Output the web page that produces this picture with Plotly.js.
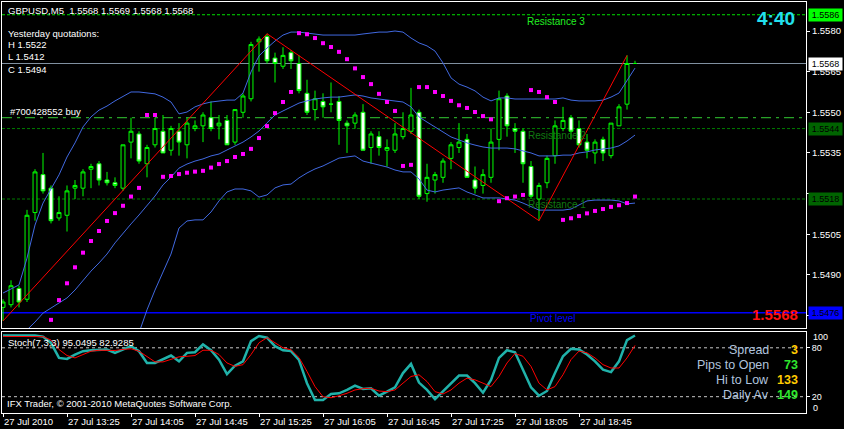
<!DOCTYPE html>
<html><head><meta charset="utf-8">
<script src="https://cdn.plot.ly/plotly-3.0.1.min.js"></script>
<style>html,body{margin:0;padding:0;background:#000;}#chart{width:844px;height:429px;}</style>
</head><body><div id="chart"></div>
<script>
// ---- data ----
const times = ["12:45","12:50","12:55","13:00","13:05","13:10","13:15","13:20",
"13:25","13:30","13:35","13:40","13:45","13:50","13:55","14:00",
"14:05","14:10","14:15","14:20","14:25","14:30","14:35","14:40",
"14:45","14:50","14:55","15:00","15:05","15:10","15:15","15:20",
"15:25","15:30","15:35","15:40","15:45","15:50","15:55","16:00",
"16:05","16:10","16:15","16:20","16:25","16:30","16:35","16:40",
"16:45","16:50","16:55","17:00","17:05","17:10","17:15","17:20",
"17:25","17:30","17:35","17:40","17:45","17:50","17:55","18:00",
"18:05","18:10","18:15","18:20","18:25","18:30","18:35","18:40",
"18:45","18:50","18:55","19:00","19:05","19:10","19:15","19:20"];

const openP = [1.5478,1.5479,1.5485,1.5481,1.5513,1.5527,1.5522,1.5511,1.5512,1.5522,
1.5522,1.5529,1.5531,1.5525,1.5524,1.5522,1.5539,1.5542,1.5531,1.5538,
1.5543,1.5536,1.5543,1.5538,1.5544,1.5545,1.5548,1.5545,1.5547,1.5539,
1.5550,1.5555,1.5576,1.5578,1.5570,1.5567,1.5572,1.5568,1.5557,1.5551,
1.5554,1.5553,1.5554,1.5546,1.5546,1.5550,1.5537,1.5541,1.5536,1.5536,
1.5541,1.5543,1.5550,1.5520,1.5525,1.5526,1.5533,1.5537,1.5540,1.5525,
1.5523,1.5526,1.5540,1.5556,1.5544,1.5543,1.5530,1.5518,1.5524,1.5534,
1.5544,1.5548,1.5544,1.5539,1.5535,1.5540,1.5534,1.5545,1.5553,1.5568];
const highP = [1.5481,1.5488,1.5486,1.5514,1.5529,1.5535,1.5523,1.5519,1.5523,1.5525,
1.5529,1.5531,1.5532,1.5528,1.5526,1.5538,1.5548,1.5543,1.5538,1.5548,
1.5549,1.5545,1.5546,1.5548,1.5547,1.5550,1.5554,1.5549,1.5549,1.5551,
1.5557,1.5576,1.5578,1.5579,1.5572,1.5574,1.5573,1.5571,1.5562,1.5558,
1.5557,1.5561,1.5556,1.5547,1.5550,1.5553,1.5543,1.5543,1.5540,1.5546,
1.5550,1.5559,1.5551,1.5531,1.5528,1.5533,1.5539,1.5546,1.5542,1.5530,
1.5529,1.5544,1.5558,1.5557,1.5546,1.5544,1.5532,1.5524,1.5534,1.5547,
1.5552,1.5549,1.5547,1.5542,1.5540,1.5541,1.5546,1.5553,1.5571,1.5569];
const lowP = [1.5473,1.5478,1.5478,1.5480,1.5510,1.5520,1.5509,1.5510,1.5506,1.5518,
1.5519,1.5522,1.5523,1.5523,1.5522,1.5521,1.5533,1.5531,1.5526,1.5537,
1.5535,1.5534,1.5534,1.5533,1.5543,1.5539,1.5543,1.5540,1.5538,1.5538,
1.5548,1.5554,1.5565,1.5568,1.5561,1.5566,1.5566,1.5557,1.5549,1.5547,
1.5548,1.5550,1.5538,1.5535,1.5544,1.5536,1.5531,1.5534,1.5530,1.5535,
1.5540,1.5542,1.5518,1.5517,1.5520,1.5524,1.5529,1.5535,1.5526,1.5520,
1.5520,1.5524,1.5536,1.5541,1.5535,1.5524,1.5518,1.5510,1.5522,1.5531,
1.5543,1.5540,1.5537,1.5533,1.5531,1.5532,1.5533,1.5545,1.5551,1.5568];
const closeP = [1.5480,1.5486,1.5480,1.5512,1.5528,1.5521,1.5510,1.5513,1.5521,1.5523,
1.5528,1.5530,1.5525,1.5524,1.5523,1.5538,1.5543,1.5532,1.5537,1.5544,
1.5535,1.5544,1.5539,1.5546,1.5545,1.5549,1.5544,1.5546,1.5538,1.5551,
1.5556,1.5575,1.5577,1.5569,1.5568,1.5571,1.5569,1.5558,1.5550,1.5555,
1.5552,1.5553,1.5547,1.5545,1.5549,1.5536,1.5542,1.5537,1.5537,1.5542,
1.5544,1.5549,1.5519,1.5526,1.5527,1.5532,1.5538,1.5539,1.5526,1.5522,
1.5527,1.5539,1.5555,1.5545,1.5543,1.5531,1.5519,1.5523,1.5533,1.5545,
1.5547,1.5543,1.5538,1.5536,1.5539,1.5535,1.5546,1.5552,1.5568,1.5568];

const sar = [null,null,null,null,null,null,1.54734,1.54807,1.54869,1.54928,
1.54982,1.55025,1.55062,1.55099,1.55128,1.55155,1.55189,1.55221,1.5549,1.5549,
1.55262,1.55265,1.55272,1.55277,1.55281,1.55284,1.55296,1.55309,1.5532,1.55335,
1.55346,1.55365,1.55405,1.55449,1.55497,1.55538,1.55575,1.55792,1.55788,1.55774,
1.55755,1.55741,1.55723,1.55696,1.55662,1.5563,1.55604,1.55568,1.55538,1.55505,
1.55302,1.55306,1.55593,1.55593,1.55575,1.5556,1.55542,1.55526,1.55516,1.55501,
1.55486,1.55474,1.55172,1.55183,1.55189,1.55195,1.55582,1.55575,1.55556,1.55538,
1.55103,1.55109,1.55117,1.55127,1.55136,1.55143,1.55151,1.55157,1.55165,1.55189];

const bbUpper = [1.54833,1.54848,1.54863,1.54962,1.55084,1.55165,1.55217,1.55269,1.55335,1.55387,
1.55446,1.55483,1.55508,1.55523,1.55542,1.5556,1.55575,1.55575,1.55571,1.55568,
1.55556,1.55538,1.55494,1.55501,1.5552,1.55531,1.55538,1.55542,1.55545,1.55545,
1.55571,1.55649,1.55708,1.55737,1.55763,1.55785,1.55796,1.55796,1.55793,1.55789,
1.55785,1.55785,1.55785,1.55785,1.55785,1.55789,1.55793,1.55796,1.55796,1.558,
1.55796,1.55774,1.55756,1.55745,1.55726,1.55682,1.55627,1.55604,1.55593,1.55579,
1.55556,1.55542,1.55553,1.55553,1.55549,1.55549,1.55549,1.55549,1.55549,1.55549,
1.55553,1.55545,1.55542,1.55542,1.55542,1.55545,1.55556,1.55571,1.55619,1.55663];
const bbMiddle = [null,null,null,1.54697,1.54726,1.54759,1.54778,1.54796,1.54815,1.54844,
1.54881,1.54914,1.54944,1.54977,1.55018,1.55055,1.55088,1.55121,1.55154,1.55191,
1.55232,1.55261,1.55294,1.55309,1.5532,1.55328,1.55339,1.55346,1.55361,1.55376,
1.5539,1.55409,1.55431,1.55461,1.5549,1.55505,1.5552,1.55534,1.55542,1.55549,
1.55553,1.55556,1.55556,1.5556,1.55564,1.5556,1.55553,1.55549,1.55545,1.55542,
1.55538,1.5552,1.55483,1.55464,1.55446,1.55427,1.55409,1.55398,1.55387,1.55379,
1.55372,1.55368,1.55368,1.55368,1.55365,1.55357,1.5535,1.55339,1.55339,1.55339,
1.55342,1.55342,1.5535,1.55354,1.55361,1.55365,1.55368,1.55376,1.55394,1.55416];
const bbLower = [null,null,null,null,null,null,null,null,null,null,
null,null,null,null,null,null,null,1.54686,1.54771,1.54844,
1.54911,1.54977,1.55073,1.55099,1.55103,1.55103,1.55132,1.55173,1.55206,1.55217,
1.55217,1.5521,1.55187,1.55195,1.55221,1.55232,1.55235,1.55258,1.55276,1.55291,
1.55302,1.55317,1.55331,1.55335,1.55339,1.5532,1.55313,1.55306,1.55298,1.55287,
1.5528,1.5528,1.55254,1.55213,1.55206,1.55213,1.55217,1.55221,1.55206,1.55195,
1.55184,1.55184,1.55184,1.5518,1.55176,1.55165,1.55151,1.55139,1.55139,1.55139,
1.55139,1.55143,1.55158,1.55173,1.55176,1.55176,1.55176,1.55173,1.55162,1.55165];

const zigzagTimes = ["12:45","15:30","18:20","19:15"];
const zigzagPrices = [1.5473,1.5579,1.5510,1.5571];

const stochK = [95,95,95,95,95,93.7,86,67.6,66.4,71.7,
75.8,77,77.9,77.9,73.8,78,82,75.8,61.4,61.4,
65.5,70.5,63.4,73.8,74.6,84.1,77,65.5,47.8,58,
63.4,88.2,94.4,92.4,82,77,76,65,36.6,15.9,
15.9,23.3,24.2,28.3,33.6,29.5,30.4,21.2,26.2,31.6,
49,60.2,37.3,28.3,17.1,27,36.6,46,46,36.6,
24.9,40.7,67.6,77,74.6,53.1,31.6,21.2,27,49,
69.6,78.8,77.9,71.7,63.4,53.1,50.2,63.4,89.5,95.05];
const stochD = [94,94,94,94,94,93.7,89.5,77.9,70.5,67.6,
71.7,75.8,77,77,76.7,78,78.8,75.8,68.9,62.7,
62.7,65.5,68.9,69.6,70.5,77,77,71.7,61.4,57.2,
59.3,71.7,86.2,92.4,86.2,80,77.5,68,51,32.4,
20,18.7,21.2,24.2,28.3,29.9,30.4,27,26.2,28.3,
36.6,44.8,46.9,38.6,26.2,23.3,28.3,36.6,42.8,40.7,
36.6,32.4,44.8,61.4,73,69.6,57.2,36.6,28.3,32.4,
47,65.5,76,73.8,67.6,59.3,55.2,55.2,67.6,82.93];

const tickTimes = ["12:45","13:25","14:05","14:45","15:25","16:05","16:45","17:25","18:05","18:45"];
const tickLabels = ["27 Jul 2010","27 Jul 13:25","27 Jul 14:05","27 Jul 14:45","27 Jul 15:25","27 Jul 16:05","27 Jul 16:45","27 Jul 17:25","27 Jul 18:05","27 Jul 18:45"];
const priceTicks = [1.5475,1.5490,1.5505,1.5520,1.5535,1.5550,1.5565,1.5580];
const priceTickLabels = ["","1.5490","1.5505","","1.5535","1.5550","1.5565","1.5580"];

const levelR3 = 1.5586, levelR2 = 1.5544, levelR1 = 1.5518, levelPivot = 1.5476;
const levelBid = 1.5568, levelOrder = 1.5548;
const stochLevels = [20, 80];

const titleText = "GBPUSD,M5\u00a0 1.5568 1.5569 1.5568 1.5568";
const yesterday = ["Yesterday quotations:", "H 1.5522", "L 1.5412", "C 1.5494"];
const orderText = "#700428552 buy";
const stochText = "Stoch(7,3,3) 95.0495 82.9285";
const copyrightText = "IFX Trader, \u00a9 2001-2010 MetaQuotes Software Corp.";
const infoLabels = ["Spread", "Pips to Open", "Hi to Low", "Daily Av"];
const infoValues = ["3", "73", "133", "149"];
const timerText = "4:40";

// ---- drawing ----
const F = "Liberation Sans, Arial, sans-serif";
const W = 844, H = 429, L = 2, R = 806, T = 2, B = 413;
const px = x => (x - L) / (R - L);
const py = y => (B - y) / (B - T);

const traces = [
  {type:'candlestick', x:times, open:openP, high:highP, low:lowP, close:closeP,
   xaxis:'x', yaxis:'y', hoverinfo:'skip', whiskerwidth:0,
   increasing:{line:{color:'#00ff00', width:1}, fillcolor:'#000000'},
   decreasing:{line:{color:'#00ff00', width:1}, fillcolor:'#ffffff'}},
  {type:'scatter', mode:'lines', x:times, y:bbUpper, line:{color:'#4169e1', width:1}, xaxis:'x', yaxis:'y', hoverinfo:'skip'},
  {type:'scatter', mode:'lines', x:times, y:bbMiddle, line:{color:'#4169e1', width:1}, xaxis:'x', yaxis:'y', hoverinfo:'skip'},
  {type:'scatter', mode:'lines', x:times, y:bbLower, line:{color:'#4169e1', width:1}, xaxis:'x', yaxis:'y', hoverinfo:'skip'},
  {type:'scatter', mode:'lines', x:zigzagTimes, y:zigzagPrices, line:{color:'#ff0000', width:1}, xaxis:'x', yaxis:'y', hoverinfo:'skip'},
  {type:'scatter', mode:'markers', x:times, y:sar, marker:{symbol:'square', size:4, color:'#ff00ff'}, xaxis:'x', yaxis:'y', hoverinfo:'skip'},
  {type:'scatter', mode:'lines', x:times, y:stochK, line:{color:'#20b2aa', width:2.5}, xaxis:'x2', yaxis:'y2', hoverinfo:'skip'},
  {type:'scatter', mode:'lines', x:times, y:stochD, line:{color:'#ff0000', width:1}, xaxis:'x2', yaxis:'y2', hoverinfo:'skip'}
];

const hline = (y, color, dash, width, yref) => ({type:'line', xref:'paper', x0:0, x1:1, yref:yref||'y', y0:y, y1:y, layer:'below', line:{color, dash, width:width||1}});
const shapes = [
  hline(levelR3, '#00e000', '3px,2px'),
  hline(levelBid, '#8090a0', 'solid'),
  hline(levelOrder, '#33cc33', '10px,5px,3px,5px'),
  hline(levelR2, '#007a00', '3px,2px'),
  hline(levelR1, '#007a00', '3px,2px'),
  hline(levelPivot, '#0000ff', 'solid', 1.5),
  ...stochLevels.map(v => hline(v, '#c8c8c8', '3px,3px', 1, 'y2'))
];

const txt = (text, x, y, o) => Object.assign({xref:'paper', yref:'paper', x:px(x), y:py(y), text, showarrow:false,
  xanchor:'left', yanchor:'middle', font:{family:F, size:9.5, color:'#ffffff'}}, o||{});
const box = (v, bg, fg) => ({xref:'paper', yref:'y', x:px(808), y:v, xanchor:'left', yanchor:'middle', text:v.toFixed(4),
  showarrow:false, bgcolor:bg, width:31, borderpad:1, align:'center', font:{family:F, size:9, color:fg||'#000'}});

const annotations = [
  txt(titleText, 6, 11),
  txt(yesterday[0], 6, 33),
  txt(yesterday[1], 6, 44.5),
  txt(yesterday[2], 6, 56.5),
  txt(yesterday[3], 6, 69),
  txt(orderText, 8, 111),
  txt('Resistance 3', 525, 21, {font:{family:F, size:10, color:'#22ee22'}}),
  txt('Resistance 2', 526, 135, {font:{family:F, size:10, color:'#107a10'}}),
  txt('Resistance 1', 526, 205, {font:{family:F, size:10, color:'#107a10'}}),
  txt('Pivot level', 528, 318, {font:{family:F, size:10, color:'#0000ff'}}),
  txt('<b>' + timerText + '</b>', 776, 19, {xanchor:'center', font:{family:F, size:19, color:'#22e0ee'}}),
  txt('<b>' + levelBid.toFixed(4) + '</b>', 800, 314, {xanchor:'right', font:{family:F, size:15, color:'#ff1010'}}),
  txt(stochText, 6, 342),
  txt(copyrightText, 5, 403),
  box(levelR3, '#00ff00'),
  box(levelBid, '#ffffff'),
  box(levelR2, '#006400'),
  box(levelR1, '#006400'),
  box(levelPivot, '#0000ff'),
  txt('100', 811, 337, {font:{family:F, size:9, color:'#ffffff'}}),
  txt('0', 811, 407.5, {font:{family:F, size:9, color:'#ffffff'}})
];
const infoY = [350, 364.5, 379.5, 394.5];
const infoColors = ['#ffcc00', '#2ee62e', '#ffcc00', '#2ee62e'];
infoLabels.forEach((lab, i) => {
  annotations.push(txt(lab, 771, infoY[i], {xanchor:'right', font:{family:F, size:12.5, color:'#b0c4de'}}));
  annotations.push(txt('<b>' + infoValues[i] + '</b>', 800, infoY[i], {xanchor:'right', font:{family:F, size:12.5, color:infoColors[i]}}));
});

const xr = [-0.125, 100.375];
const layout = {
  width:W, height:H, paper_bgcolor:'#000000', plot_bgcolor:'#000000',
  margin:{l:L, r:W-R, t:T, b:H-B}, showlegend:false, boxgap:0.3, hovermode:false,
  xaxis:{type:'category', categoryorder:'array', categoryarray:times, range:xr, anchor:'y', domain:[0,1],
    showline:true, mirror:true, linecolor:'#ffffff', linewidth:1, showgrid:false, zeroline:false,
    showticklabels:false, ticks:'', rangeslider:{visible:false}, fixedrange:true},
  xaxis2:{type:'category', categoryorder:'array', categoryarray:times, range:xr, anchor:'y2', domain:[0,1],
    showline:true, mirror:true, linecolor:'#ffffff', linewidth:1, showgrid:false, zeroline:false,
    tickmode:'array', tickvals:tickTimes, ticktext:tickLabels, ticks:'outside', ticklen:3, tickcolor:'#ffffff',
    ticklabelposition:'outside right', tickfont:{family:F, size:9.5, color:'#ffffff'}, fixedrange:true},
  yaxis:{domain:[py(328), 1], range:[1.54704, 1.55907], side:'right', anchor:'x',
    showline:true, mirror:true, linecolor:'#ffffff', linewidth:1, showgrid:false, zeroline:false,
    tickmode:'array', tickvals:priceTicks, ticktext:priceTickLabels, ticks:'outside', ticklen:3, tickcolor:'#ffffff',
    tickfont:{family:F, size:9.5, color:'#ffffff'}, fixedrange:true},
  yaxis2:{domain:[0, py(331.5)], range:[0,100], side:'right', anchor:'x2',
    showline:true, mirror:true, linecolor:'#ffffff', linewidth:1, showgrid:false, zeroline:false,
    tickmode:'array', tickvals:stochLevels, ticks:'outside', ticklen:3, tickcolor:'#ffffff',
    tickfont:{family:F, size:9, color:'#ffffff'}, fixedrange:true},
  shapes, annotations
};
Plotly.newPlot('chart', traces, layout, {staticPlot:true, displayModeBar:false});
</script></body></html>
